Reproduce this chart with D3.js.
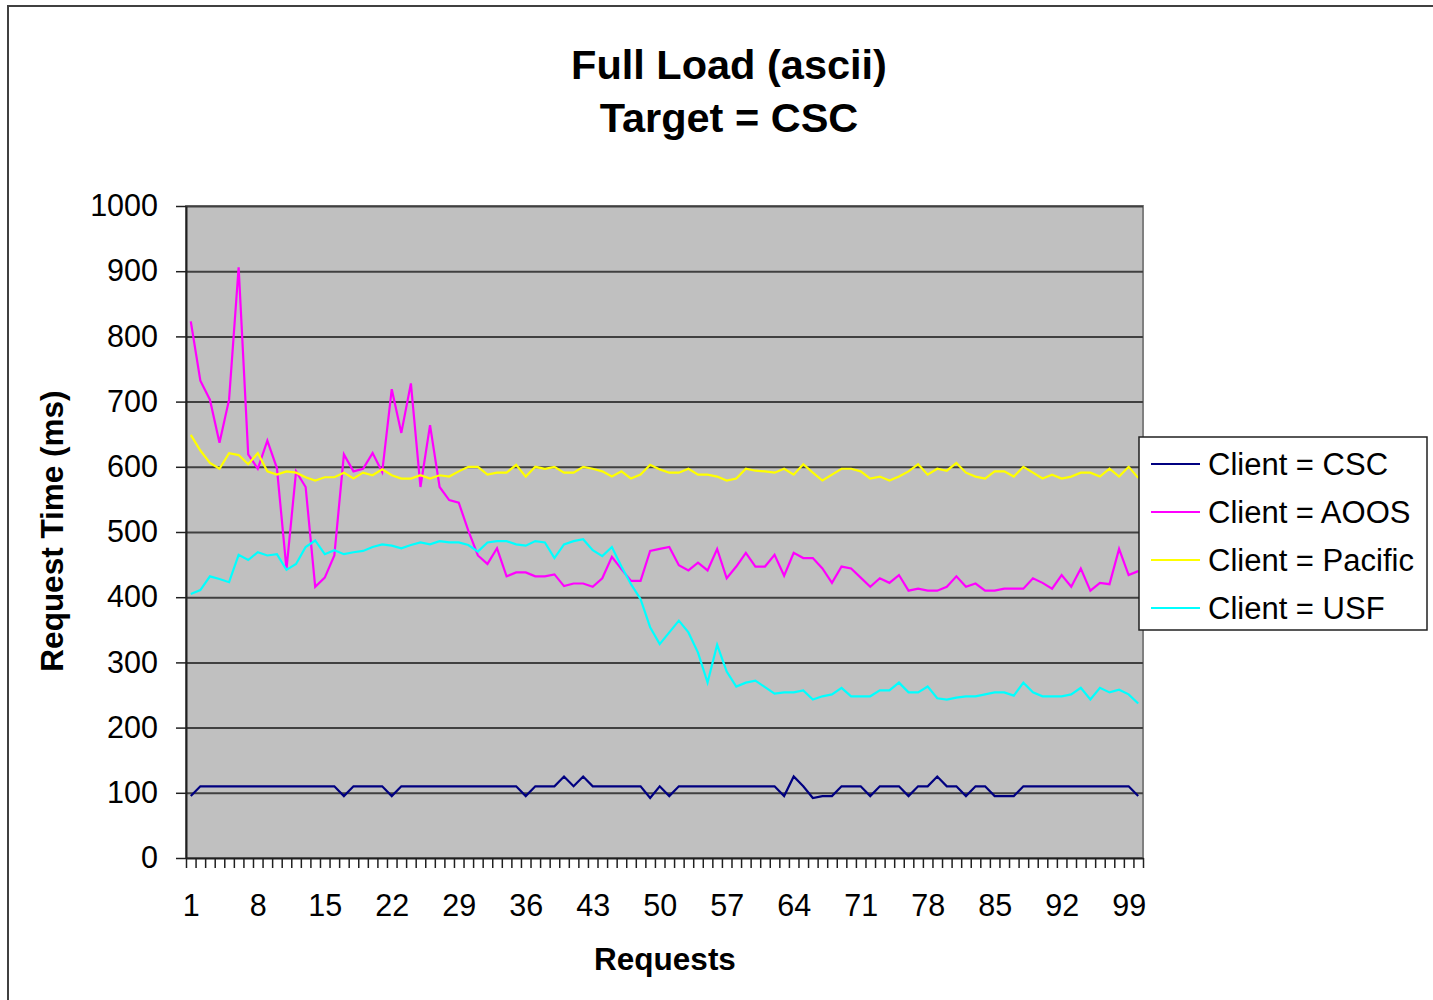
<!DOCTYPE html>
<html>
<head>
<meta charset="utf-8">
<script src="https://cdnjs.cloudflare.com/ajax/libs/d3/7.8.5/d3.min.js"></script>
<style>
  body{margin:0;background:#fff;}
  svg{display:block;font-family:"Liberation Sans", Arial, sans-serif;}
</style>
</head>
<body>
<div class="LC"></div>
<script>
// request number 1..100
var requests=d3.range(1,101);
var xTickLabels=[1,8,15,22,29,36,43,50,57,64,71,78,85,92,99];
var yTicks=[0,100,200,300,400,500,600,700,800,900,1000];

var seriesNames=["Client = CSC","Client = AOOS","Client = Pacific","Client = USF"];
var seriesColors=["#000080","#FF00FF","#FFFF00","#00FFFF"];

var csc=[95,110,110,110,110,110,110,110,110,110,110,110,110,110,110,110,95,110,110,110,
  110,95,110,110,110,110,110,110,110,110,110,110,110,110,110,95,110,110,110,125,
  110,125,110,110,110,110,110,110,92,110,95,110,110,110,110,110,110,110,110,110,
  110,110,95,125,110,92,95,95,110,110,110,95,110,110,110,95,110,110,125,110,
  110,95,110,110,95,95,95,110,110,110,110,110,110,110,110,110,110,110,110,95];

var aoos=[823,732,703,637,703,906,619,597,640,598,443,593,569,416,430,464,619,593,597,621,
  592,719,652,728,569,664,569,549,545,502,464,451,475,432,438,438,432,432,435,417,
  421,421,416,429,462,443,425,425,471,474,477,449,441,453,441,474,429,447,468,447,
  447,465,433,468,460,460,444,422,447,444,430,416,429,422,434,410,413,410,410,416,
  432,416,421,410,410,413,413,413,429,422,413,434,416,444,410,422,420,474,434,440];

var pacific=[649,625,606,597,621,618,604,621,593,588,593,591,584,579,584,584,591,582,591,587,
  596,587,582,582,587,582,587,585,593,600,600,588,591,591,603,585,600,597,600,591,
  591,600,597,593,585,593,582,588,603,596,591,591,597,588,588,585,579,582,597,594,
  593,591,597,588,604,591,579,588,597,597,593,582,585,579,585,593,604,588,597,594,
  606,591,585,582,593,593,585,600,591,582,588,582,585,591,591,585,597,585,600,583];

var usf=[405,411,432,428,423,465,457,469,464,466,442,451,477,487,466,472,466,469,471,477,
  481,479,475,480,484,481,486,484,484,480,470,484,486,486,481,479,486,484,460,481,
  486,489,472,463,477,447,420,397,354,328,346,364,346,315,269,327,286,263,269,272,
  262,252,254,254,257,243,248,251,261,248,248,248,257,257,269,254,254,263,245,243,
  246,248,248,251,254,254,249,269,254,248,248,248,251,261,243,261,254,258,251,237];

var allSeries=[csc,aoos,pacific,usf];

var W=1433, H=1000;
var plot={left:186, right:1143, top:206, bottom:858};

var canvas=d3.select(".LC").append("svg")
  .attr("width",W)
  .attr("height",H);

// outer chart border
canvas.append("rect")
  .attr("x",8).attr("y",6)
  .attr("width",W+20).attr("height",H+20)
  .attr("fill","#fff")
  .attr("stroke","#404040")
  .attr("stroke-width",2);

var xScale=d3.scaleLinear()
  .domain([0.5,100.5])
  .range([plot.left,plot.right]);

var yScale=d3.scaleLinear()
  .domain([0,1000])
  .range([plot.bottom,plot.top]);

// plot area
canvas.append("rect")
  .attr("x",plot.left).attr("y",plot.top)
  .attr("width",plot.right-plot.left).attr("height",plot.bottom-plot.top)
  .attr("fill","#C0C0C0")
  .attr("stroke","#808080")
  .attr("stroke-width",2);

// gridlines
canvas.append("g")
  .attr("class","grid")
  .attr("transform","translate("+plot.left+",0)")
  .call(d3.axisLeft(yScale).tickValues(yTicks.slice(1)).tickSize(-(plot.right-plot.left)).tickFormat(""))
  .call(function(g){
    g.select(".domain").remove();
    g.selectAll("line").attr("stroke","#404040").attr("stroke-width",2);
  });

// series lines
var line=d3.line()
  .x(function(d,i){return xScale(requests[i]);})
  .y(function(d){return yScale(d);});

canvas.selectAll("path.series")
  .data(allSeries)
  .enter()
  .append("path")
  .attr("class","series")
  .attr("d",function(d){return line(d);})
  .attr("fill","none")
  .attr("stroke",function(d,i){return seriesColors[i];})
  .attr("stroke-width",2.2)
  .attr("stroke-linejoin","miter");

// y axis
canvas.append("g")
  .attr("class","y axis")
  .attr("transform","translate("+plot.left+",0)")
  .call(d3.axisLeft(yScale).tickValues(yTicks).tickFormat(d3.format("d")).tickSize(10).tickPadding(18).tickSizeOuter(0))
  .call(function(g){
    g.select(".domain").attr("stroke","#202020").attr("stroke-width",2);
    g.selectAll("line").attr("stroke","#202020").attr("stroke-width",1.5);
    g.selectAll("text").attr("font-size",30.5).attr("fill","#000")
      .attr("font-family","Liberation Sans, Arial, sans-serif");
  });

// x axis: ticks on category boundaries
canvas.append("g")
  .attr("class","x axis")
  .attr("transform","translate(0,"+plot.bottom+")")
  .call(d3.axisBottom(xScale).tickValues(d3.range(0.5,101,1)).tickSize(10).tickSizeOuter(0).tickFormat(""))
  .call(function(g){
    g.select(".domain").attr("stroke","#202020").attr("stroke-width",2);
    g.selectAll("line").attr("stroke","#202020").attr("stroke-width",1.5);
  });

// x axis labels centred on categories
canvas.append("g")
  .attr("class","x labels")
  .attr("transform","translate(0,"+plot.bottom+")")
  .call(d3.axisBottom(xScale).tickValues(xTickLabels).tickSize(0).tickPadding(36))
  .call(function(g){
    g.select(".domain").remove();
    g.selectAll("text").attr("font-size",30.5).attr("fill","#000")
      .attr("font-family","Liberation Sans, Arial, sans-serif");
  });

// titles
canvas.append("text")
  .text("Full Load (ascii)")
  .attr("x",729).attr("y",79)
  .attr("text-anchor","middle")
  .attr("font-size",41.5).attr("font-weight","bold");

canvas.append("text")
  .text("Target = CSC")
  .attr("x",729).attr("y",132)
  .attr("text-anchor","middle")
  .attr("font-size",41.5).attr("font-weight","bold");

canvas.append("text")
  .text("Requests")
  .attr("x",665).attr("y",970)
  .attr("text-anchor","middle")
  .attr("font-size",31.5).attr("font-weight","bold");

canvas.append("text")
  .text("Request Time (ms)")
  .attr("transform","translate(63,531) rotate(-90)")
  .attr("text-anchor","middle")
  .attr("font-size",31.5).attr("font-weight","bold");

// legend
var legend=canvas.append("g").attr("class","legend");
legend.append("rect")
  .attr("x",1139).attr("y",437)
  .attr("width",288).attr("height",193)
  .attr("fill","#fff")
  .attr("stroke","#202020")
  .attr("stroke-width",1.5);

var items=legend.selectAll("g.item")
  .data(seriesNames)
  .enter()
  .append("g")
  .attr("class","item")
  .attr("transform",function(d,i){return "translate(1151,"+(464+i*48)+")";});

items.append("line")
  .attr("x1",0).attr("x2",49)
  .attr("stroke",function(d,i){return seriesColors[i];})
  .attr("stroke-width",2);

items.append("text")
  .text(function(d){return d;})
  .attr("x",57).attr("y",11)
  .attr("font-size",31);
</script>
</body>
</html>
